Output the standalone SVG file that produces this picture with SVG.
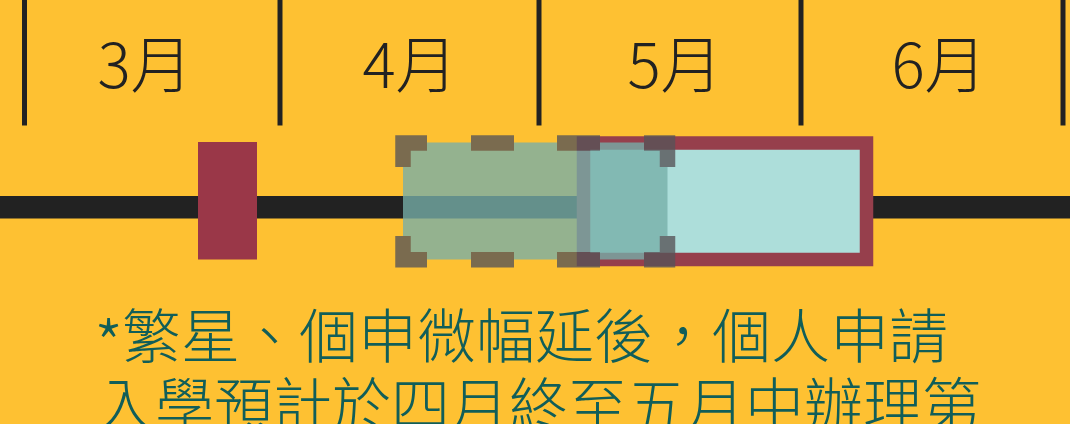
<svg xmlns="http://www.w3.org/2000/svg" width="1070" height="424" viewBox="0 0 1070 424">
  <style>
    .tick { stroke: #222222; stroke-width: 5; }
    .month { font-family: "Noto Sans CJK TC", "Noto Sans", sans-serif; font-size: 62px; font-weight: 300; fill: #222222; text-anchor: middle; }
    .note { font-family: "Noto Sans CJK TC", sans-serif; font-size: 59px; font-weight: 300; fill: #115E59; }
    .dash { fill: none; stroke: #575458; stroke-width: 15.5; stroke-linejoin: miter; stroke-linecap: butt; }
  </style>
  <rect x="0" y="0" width="1070" height="424" fill="#FEC132"/>
  <g id="ticks">
    <line class="tick" x1="24.5" y1="0" x2="24.5" y2="125.5"/>
    <line class="tick" x1="280" y1="0" x2="280" y2="125.5"/>
    <line class="tick" x1="539" y1="0" x2="539" y2="125.5"/>
    <line class="tick" x1="801" y1="0" x2="801" y2="125.5"/>
    <line class="tick" x1="1063" y1="0" x2="1063" y2="125.5"/>
  </g>
  <g id="months">
    <text class="month" x="145" y="88">3月</text>
    <text class="month" x="410" y="88">4月</text>
    <text class="month" x="675" y="88">5月</text>
    <text class="month" x="939" y="88">6月</text>
  </g>
  <g id="connectors">
    <rect x="0" y="196" width="1070" height="22.5" fill="#222222"/>
  </g>
  <g id="marker-march">
    <rect x="198" y="142" width="59" height="117.5" fill="#9A3748"/>
  </g>
  <g id="period-new">
    <rect x="583.5" y="143" width="283" height="116.5" fill="#ADDEDA" stroke="#963F4C" stroke-width="13.5"/>
  </g>
  <g id="period-old" opacity="0.785">
    <rect x="403" y="142.5" width="264.5" height="117" fill="#77AFA9"/>
    <path class="dash" d="M403,167 V143 H427"/>
    <path class="dash" d="M471,143 H514"/>
    <path class="dash" d="M557,143 H600"/>
    <path class="dash" d="M644,143 H667.5 V167"/>
    <path class="dash" d="M667.5,236 V259.7 H644"/>
    <path class="dash" d="M600,259.7 H557"/>
    <path class="dash" d="M514,259.7 H471"/>
    <path class="dash" d="M427,259.7 H403 V236"/>
  </g>
  <g id="note">
    <text class="note" y="358"><tspan x="94" dy="12" font-size="66">*</tspan><tspan x="122" dy="-12">繁星、個申微幅延後，個人申請</tspan></text>
    <text class="note" x="96" y="427">入學預計於四月終至五月中辦理第</text>
  </g>
</svg>
